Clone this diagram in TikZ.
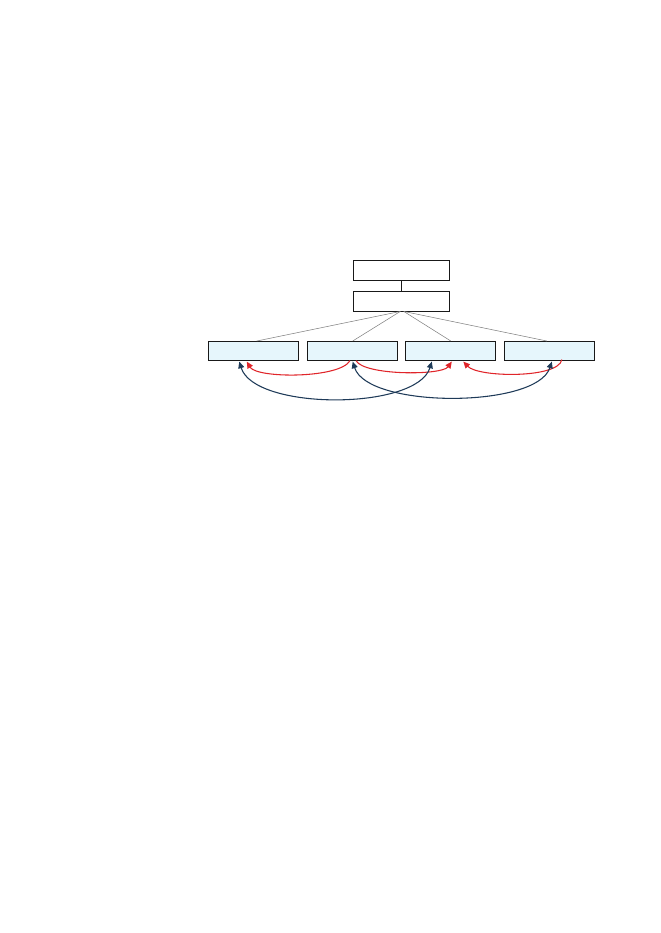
\documentclass[tikz,border=0pt]{standalone}
\usetikzlibrary{arrows.meta,calc}
\definecolor{boxfill}{HTML}{E6F6FC}
\definecolor{redarrow}{HTML}{E0252A}
\definecolor{bluearrow}{HTML}{1E3A58}
\definecolor{linegray}{HTML}{808080}
\begin{document}
\begin{tikzpicture}[x=0.75pt,y=-0.75pt,
  topbox/.style={draw=black!90,line width=0.7pt,fill=white,minimum width=72pt,minimum height=14.5pt,inner sep=0pt},
  leafbox/.style={draw=black!90,line width=0.7pt,fill=boxfill,minimum width=67.5pt,minimum height=14pt,inner sep=0pt},
  link/.style={draw=linegray,line width=0.4pt},
  redarr/.style={draw=redarrow,line width=0.8pt,-{Triangle[length=5pt,width=4.5pt]}},
  bluearr/.style={draw=bluearrow,line width=0.8pt,{Triangle[length=5pt,width=4.5pt]}-{Triangle[length=5pt,width=4.5pt]}}]
\useasboundingbox (0,0) rectangle (661,933);
\node[topbox] (t1) at (401.8,270.3) {};
\node[topbox] (t2) at (401.8,301.3) {};
\node[leafbox] (b1) at (253.8,350.8) {};
\node[leafbox] (b2) at (352.7,350.8) {};
\node[leafbox] (b3) at (450.8,350.8) {};
\node[leafbox] (b4) at (549.8,350.8) {};
\draw[line width=0.6pt,black!90] (t1.south) -- (t2.north);
\coordinate (hl) at ($(t2.south)+(-1.5,0)$);
\coordinate (hr) at ($(t2.south)+(2,0)$);
\draw[link] (hl) -- ($(b1.north)+(3,0)$);
\draw[link] (hl) -- (b2.north);
\draw[link] (hr) -- (b3.north);
\draw[link] (hr) -- ($(b4.north)+(-3,0)$);
% red arrows
\draw[redarr] ($(b2.south)+(-2.7,0)$) .. controls +(-10,18) and +(10,17) .. ($(b1.south)+(-7,1)$);
\draw[redarr] ($(b2.south)+(3.3,0)$) .. controls +(8,15) and +(-10,14) .. ($(b3.south)+(1,1)$);
\draw[redarr] ($(b4.south)+(12,-1)$) .. controls +(-3,19) and +(15,16) .. ($(b3.south)+(12.5,1)$);
% blue arrows
\draw[bluearr] ($(b1.south)+(-14.5,1)$) .. controls +(15,49) and +(-15,49) .. ($(b3.south)+(-19,1)$);
\draw[bluearr] ($(b2.south)+(0,1)$) .. controls +(15,47) and +(-15,47) .. ($(b4.south)+(2,1)$);
\end{tikzpicture}
\end{document}
